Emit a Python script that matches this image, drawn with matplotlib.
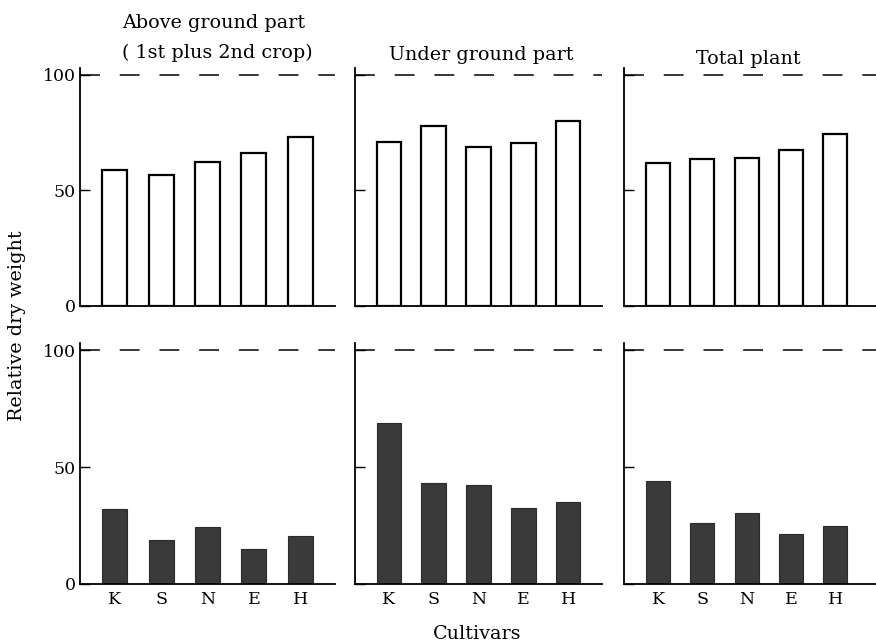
import matplotlib
matplotlib.use("Agg")
import matplotlib.pyplot as plt

plt.rcParams['font.family'] = ['DejaVu Serif']

cultivars = ["K", "S", "N", "E", "H"]
titles = ["Above ground part\n(1st plus 2nd crop)", "Under ground part", "Total plant"]

# top row (open bars)
above_top = [59, 56.5, 62.5, 66, 73]
under_top = [71, 78, 69, 70.5, 80]
total_top = [62, 63.5, 64, 67.5, 74.5]

# bottom row (filled bars)
above_bot = [32, 19, 24.5, 15, 20.5]
under_bot = [69, 43, 42.5, 32.5, 35]
total_bot = [44, 26, 30.5, 21.5, 25]

yticks = [0, 50, 100]
ytick_labels = ["0", "50", "100"]

W, H = 876, 644
fig = plt.figure(figsize=(W / 100, H / 100), dpi=100)

# pixel layout: (left, right) per column, (top, bottom) per row
cols = [(80, 335), (355, 602), (624, 876)]
xlims = [(-0.75, 4.75), (-0.75, 4.75), (-0.77, 4.92)]
rows = [(68, 306), (343, 584)]

top_data = [above_top, under_top, total_top]
bot_data = [above_bot, under_bot, total_bot]

x = list(range(len(cultivars)))

for r, (rt, rb) in enumerate(rows):
    for c, (cl, cr) in enumerate(cols):
        ax = fig.add_axes([cl / W, 1 - rb / H, (cr - cl) / W, (rb - rt) / H])
        vals = top_data[c] if r == 0 else bot_data[c]
        if r == 0:
            ax.bar(x, vals, width=0.54, facecolor="white", edgecolor="black", linewidth=1.6)
        else:
            ax.bar(x, vals, width=0.54, facecolor="#3a3a3a", edgecolor="#2a2a2a", linewidth=0.8)
        ax.axhline(100, color="black", linewidth=1.1, linestyle=(0, (13, 13)))
        ax.set_xlim(*xlims[c])
        ax.set_ylim(0, 103)
        for s in ["top", "right"]:
            ax.spines[s].set_visible(False)
        ax.spines["left"].set_linewidth(1.3)
        ax.spines["bottom"].set_linewidth(1.3)
        ax.set_yticks(yticks)
        if c == 0:
            ax.set_yticklabels(ytick_labels, fontsize=12.5)
        else:
            ax.set_yticklabels([])
        ax.tick_params(axis="y", direction="in", length=7, width=1, pad=3)
        ax.set_xticks(x)
        if r == 1:
            ax.set_xticklabels(cultivars, fontsize=12.5)
        else:
            ax.set_xticklabels([])
        ax.tick_params(axis="x", length=0, pad=5)

tfs = 13.8
# column titles
fig.text(214 / W, 1 - 23 / H, "Above ground part", ha="center", va="center", fontsize=tfs)
fig.text(217 / W, 1 - 53 / H, "( 1st plus 2nd crop)", ha="center", va="center", fontsize=tfs)
fig.text(481 / W, 1 - 55 / H, titles[1], ha="center", va="center", fontsize=tfs)
fig.text(748 / W, 1 - 59 / H, titles[2], ha="center", va="center", fontsize=tfs)

fig.text(17 / W, 1 - 326 / H, "Relative dry weight", rotation=90, ha="center", va="center", fontsize=tfs)
fig.text(477 / W, 1 - 634 / H, "Cultivars", ha="center", va="center", fontsize=tfs)

fig.savefig("out.png", dpi=100)
